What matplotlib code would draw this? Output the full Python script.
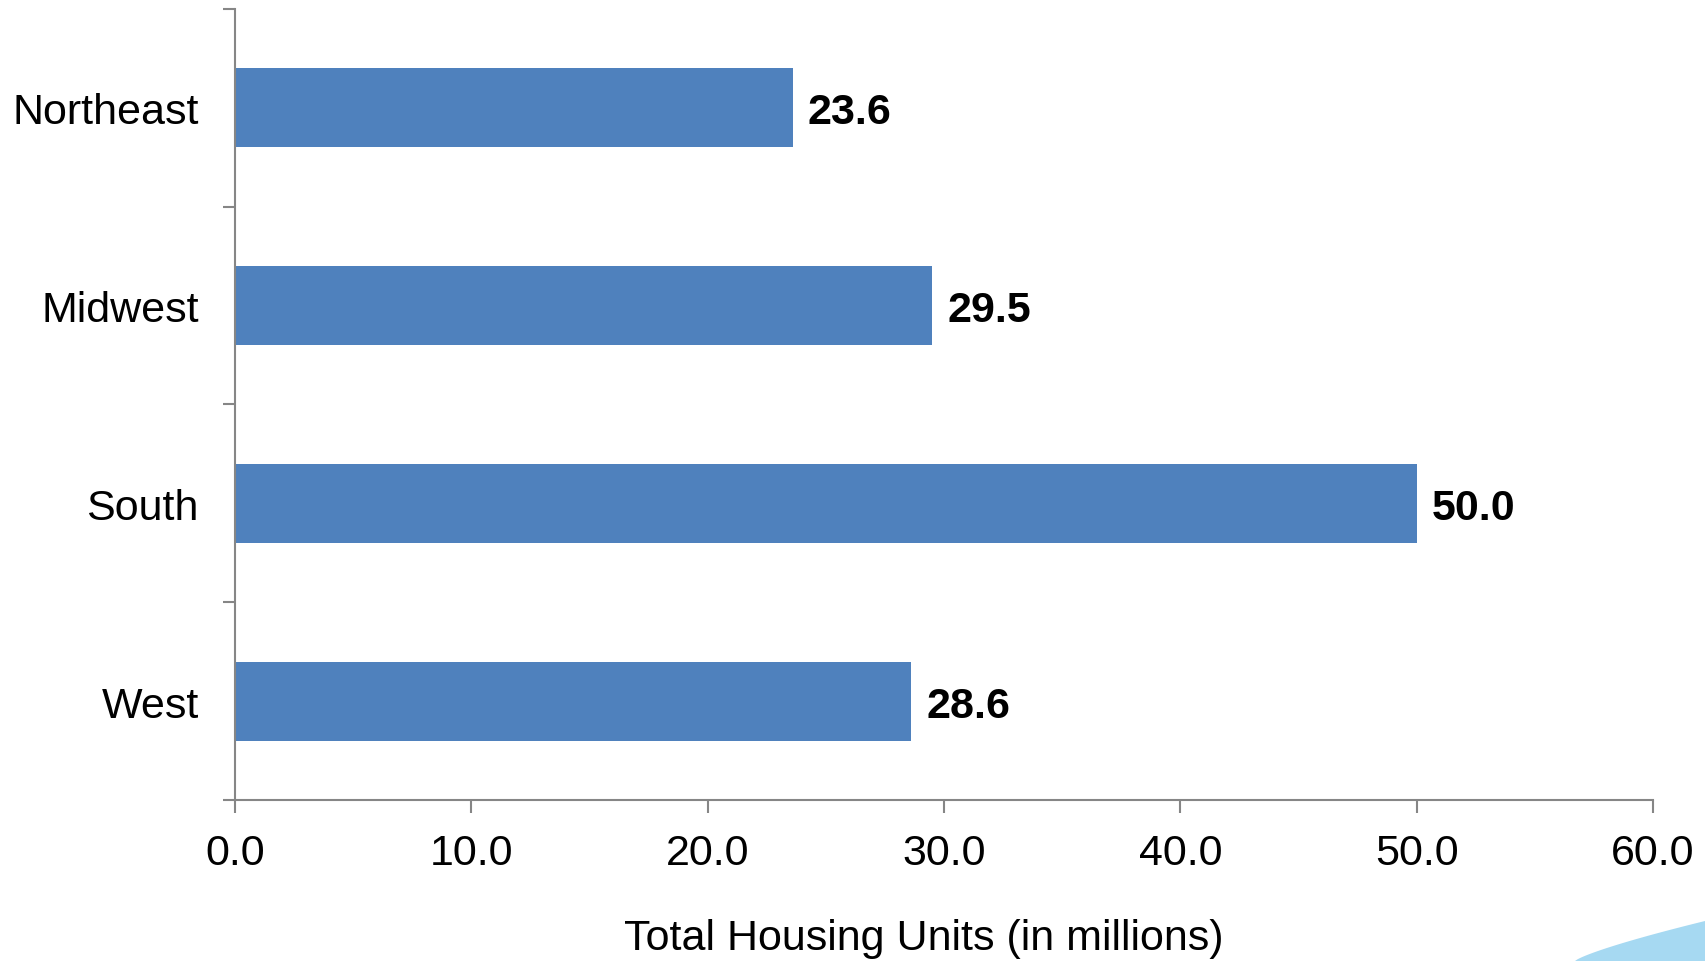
import numpy as np
import matplotlib.pyplot as plt
from matplotlib.patches import Polygon

plt.rcParams['font.family'] = ['Liberation Sans', 'DejaVu Sans']

# Housing units by region (millions)
regions = ['Northeast', 'Midwest', 'South', 'West']
units = [23.6, 29.5, 50.0, 28.6]
x_ticks = [0, 10, 20, 30, 40, 50, 60]

fig = plt.figure(figsize=(17.05, 9.62), dpi=100)
ax = fig.add_axes([0.1378, 0.1674, 0.9695 - 0.1378, 0.9896 - 0.1674])

y = np.arange(len(regions))
ax.barh(y, units, height=0.4, color='#4F81BD')

for yi, v in zip(y, units):
    ax.annotate(f'{v:.1f}', (v, yi), xytext=(11, 0), textcoords='offset points',
                ha='left', va='center_baseline', fontsize=31, fontweight='bold')

ax.set_xlim(0, 60)
ax.set_ylim(len(regions) - 0.5, -0.5)
ax.set_xticks(x_ticks)
ax.set_xticklabels([f'{t:.1f}' for t in x_ticks], fontsize=31)
ax.set_yticks(y)
ax.set_yticklabels(regions, fontsize=31)
ax.set_yticks(np.arange(len(regions) + 1) - 0.5, minor=True)

gray = '#868686'
for side in ['top', 'right']:
    ax.spines[side].set_visible(False)
for side in ['left', 'bottom']:
    ax.spines[side].set_color(gray)
    ax.spines[side].set_linewidth(1.5)

ax.tick_params(axis='y', which='major', length=0, pad=26)
ax.tick_params(axis='y', which='minor', length=9, width=1.5, color=gray, direction='out')
ax.tick_params(axis='x', length=9, width=1.5, color=gray, direction='out', pad=15)

ax.set_xlabel('Total Housing Units (in millions)', fontsize=31, labelpad=32)
ax.xaxis.label.set_x(0.486)

# decorative swoosh in the bottom-right corner
t = np.linspace(0, 1, 50)
cx = 1575 + (1705 - 1575) * t
cy = 962 - (962 - 922) * t ** 0.8
pts = np.column_stack([cx / 1705, 1 - cy / 962])
pts = np.vstack([pts, [[1.0, 0.0]]])
fig.patches.append(Polygon(pts, closed=True, transform=fig.transFigure,
                           facecolor='#A6D9F2', edgecolor='none'))

fig.savefig('out.png', dpi=100)
